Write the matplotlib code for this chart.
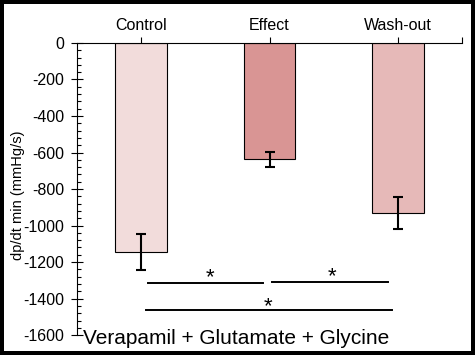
import matplotlib.pyplot as plt
from matplotlib.ticker import MultipleLocator

plt.rcParams['font.family'] = ['Liberation Sans', 'DejaVu Sans']

categories = ['Control', 'Effect', 'Wash-out']
means = [-1145, -637, -933]
errors = [100, 42, 87]
colors = ['#F2DCDB', '#D99594', '#E6B9B8']

# significance brackets: (x start, x end, y level), star position
brackets = [(0.55, 1.45, -1313), (1.52, 2.42, -1308), (0.54, 2.45, -1461)]
stars = [(1.04, -1342), (1.99, -1337), (1.49, -1501)]

fig = plt.figure(figsize=(4.75, 3.55), dpi=100)
fig.patch.set_edgecolor('black')
fig.patch.set_linewidth(4.5)
ax = fig.add_axes([0.162, 0.056, 0.811, 0.823])

xpos = [0.5, 1.5, 2.5]
ax.bar(xpos, means, width=0.4, color=colors, edgecolor='black', linewidth=0.8)
ax.errorbar(xpos, means, yerr=errors, fmt='none', ecolor='black',
            elinewidth=1.5, capsize=3.3, capthick=1.5)

for x0, x1, y in brackets:
    ax.plot([x0, x1], [y, y], color='black', linewidth=1.4, clip_on=False)
for x, y in stars:
    ax.text(x, y, '*', ha='center', va='bottom', fontsize=16)

ax.set_xlim(0, 3)
ax.set_ylim(-1600, 0)
ax.xaxis.tick_top()
ax.set_xticks(xpos + [3])
ax.set_xticklabels(categories + [''])
ax.tick_params(axis='x', direction='out', length=4, width=0.8, pad=3, labelsize=11.5)
ax.yaxis.set_major_locator(MultipleLocator(200))
ax.yaxis.set_minor_locator(MultipleLocator(40))
ax.tick_params(axis='y', which='major', direction='inout', length=8, width=0.8,
               pad=5, labelsize=11.5)
ax.tick_params(axis='y', which='minor', direction='in', length=3, width=0.8)
ax.set_yticks(range(-1600, 1, 200))
ax.set_yticklabels([str(v) for v in range(-1600, 1, 200)])

for side in ['right', 'bottom']:
    ax.spines[side].set_visible(False)
ax.spines['left'].set_linewidth(0.8)
ax.spines['top'].set_linewidth(0.8)

ax.set_ylabel('dp/dt min (mmHg/s)', fontsize=10.5)
ax.yaxis.set_label_coords(-0.135, 0.48)
ax.text(0.05, -1650, 'Verapamil + Glutamate + Glycine', fontsize=15,
        ha='left', va='baseline', clip_on=False)

fig.savefig('out.png', dpi=100, edgecolor=fig.get_edgecolor())
